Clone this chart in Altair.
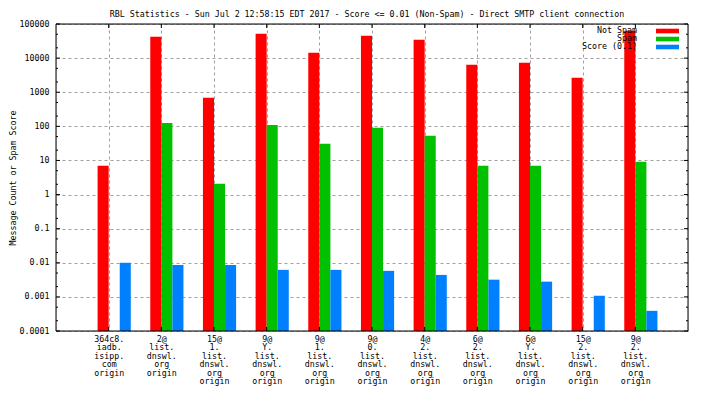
import json
import altair as alt
import pandas as pd

# ---------------- data ----------------
title_text = "RBL Statistics - Sun Jul  2 12:58:15 EDT 2017 - Score <= 0.01 (Non-Spam) - Direct SMTP client connection"
y_title = "Message Count or Spam Score"

categories = [
    "364c8.|iadb.|isipp.|com|origin",
    "2@|list.|dnswl.|org|origin",
    "15@|1.|list.|dnswl.|org|origin",
    "9@|Y.|list.|dnswl.|org|origin",
    "9@|1.|list.|dnswl.|org|origin",
    "9@|0.|list.|dnswl.|org|origin",
    "4@|2.|list.|dnswl.|org|origin",
    "6@|2.|list.|dnswl.|org|origin",
    "6@|Y.|list.|dnswl.|org|origin",
    "15@|2.|list.|dnswl.|org|origin",
    "9@|2.|list.|dnswl.|org|origin",
]
series = ["Not Spam", "Spam", "Score (0.1)"]
colors = ["#ff0000", "#00c000", "#0080ff"]

not_spam = [7.0, 42400, 690, 52000, 14400, 45400, 34700, 6400, 7300, 2660, 63000]
spam = [None, 125, 2.07, 109, 31, 91, 53, 7.0, 7.0, None, 9.2]
score = [0.0100, 0.0086, 0.0086, 0.0062, 0.0062, 0.0058, 0.0044, 0.0032, 0.0028, 0.00108, 0.00039]

y_ticks = [0.0001, 0.001, 0.01, 0.1, 1, 10, 100, 1000, 10000, 100000]

# ---------------- layout ----------------
FONT = "DejaVu Sans Mono"
FS = 8.3
W, H = 632, 307
BW = 0.21  # bar width in group units

rows = []
for gi, cat in enumerate(categories):
    k = gi + 1
    for si, (name, vals) in enumerate(zip(series, [not_spam, spam, score])):
        v = vals[gi]
        if v is None:
            continue
        start = k + (si - 1) * BW
        rows.append({"series": name, "value": v, "x0": start, "x1": start + BW})
df = pd.DataFrame(rows)

xscale = alt.Scale(domain=[0, 12], nice=False, zero=False)
yscale = alt.Scale(type="log", domain=[1e-4, 1e5], nice=False)

label_expr = "split(" + json.dumps(categories) + "[datum.value - 1], '|')"

x_axis = alt.Axis(
    values=list(range(1, len(categories) + 1)),
    labelExpr=label_expr,
    grid=True, gridDash=[3, 3], gridColor="#a0a0a0", gridWidth=1,
    ticks=False, domain=False, title=None,
    labelFont=FONT, labelFontSize=FS, labelLineHeight=8.5, labelPadding=3,
    labelAngle=0, labelAlign="center", labelBaseline="top",
    labelOverlap=False, labelBound=False, labelFlush=False, labelColor="black",
)
y_axis = alt.Axis(
    values=y_ticks,
    labelExpr="format(datum.value, '~g')",
    grid=True, gridDash=[3, 3], gridColor="#a0a0a0", gridWidth=1,
    ticks=False, domain=False,
    labelFont=FONT, labelFontSize=FS, labelPadding=7, labelColor="black",
    labelOverlap=False, labelBound=False, labelFlush=False,
    title=y_title, titleFont=FONT, titleFontSize=FS, titleFontWeight="normal",
    titleColor="black", titleAngle=270, titleX=-43, titleY=H / 2,
    titleAlign="center", titleBaseline="middle",
)

bars = alt.Chart(df).mark_bar(strokeWidth=0).encode(
    x=alt.X("x0:Q", scale=xscale, axis=x_axis),
    x2="x1:Q",
    y=alt.Y("value:Q", scale=yscale, axis=y_axis),
    y2=alt.datum(1e-4),
    color=alt.Color("series:N", scale=alt.Scale(domain=series, range=colors), legend=None),
)

# ---- legend (gnuplot style: label then sample) ----
one = pd.DataFrame({"a": [0]})
legend_layers = []
for i, (name, col) in enumerate(zip(series, colors)):
    yc = 7 + 8 * i
    legend_layers.append(
        alt.Chart(one).mark_text(text=name, align="right", baseline="middle",
                                 font=FONT, fontSize=FS, color="black")
        .encode(x=alt.value(581), y=alt.value(yc))
    )
    legend_layers.append(
        alt.Chart(one).mark_rect(color=col)
        .encode(x=alt.value(600), x2=alt.value(623), y=alt.value(yc - 2.3), y2=alt.value(yc + 2.3))
    )

# ---- inward tick marks (gnuplot style) ----
major = pd.DataFrame({"v": y_ticks})
minor = pd.DataFrame({"v": [m * 10.0 ** e for e in range(-4, 5) for m in (2, 5)]})
xt = pd.DataFrame({"k": list(range(1, len(categories) + 1))})

def ytick(d, x_a, x_b):
    return alt.Chart(d).mark_rule(color="black", strokeWidth=1).encode(
        y=alt.Y("v:Q", scale=yscale, axis=y_axis), x=alt.value(x_a), x2=alt.value(x_b))

def xtick(y_a, y_b):
    return alt.Chart(xt).mark_rule(color="black", strokeWidth=1).encode(
        x=alt.X("k:Q", scale=xscale, axis=x_axis), y=alt.value(y_a), y2=alt.value(y_b))

ticks = [
    ytick(major, 0, 4), ytick(major, W, W - 4),
    ytick(minor, 0, 2), ytick(minor, W, W - 2),
    xtick(0, 4), xtick(H, H - 4),
]

frame = alt.Chart(one).mark_rect(fillOpacity=0, stroke="black", strokeWidth=1).encode(
    x=alt.value(0), x2=alt.value(W), y=alt.value(0), y2=alt.value(H))

chart = alt.layer(bars, *legend_layers, *ticks, frame).properties(
    width=W, height=H,
    autosize=alt.AutoSizeParams(type="none"),
    padding={"left": 48, "top": 16, "right": 8, "bottom": 57},
    title=alt.TitleParams(title_text, font=FONT, fontSize=FS, fontWeight="normal",
                          color="black", anchor="middle", frame="group", offset=1, dx=-5),
).configure_view(stroke=None).configure(background="white")

chart.save("out.html", embed_options={"renderer": "svg", "actions": False})
